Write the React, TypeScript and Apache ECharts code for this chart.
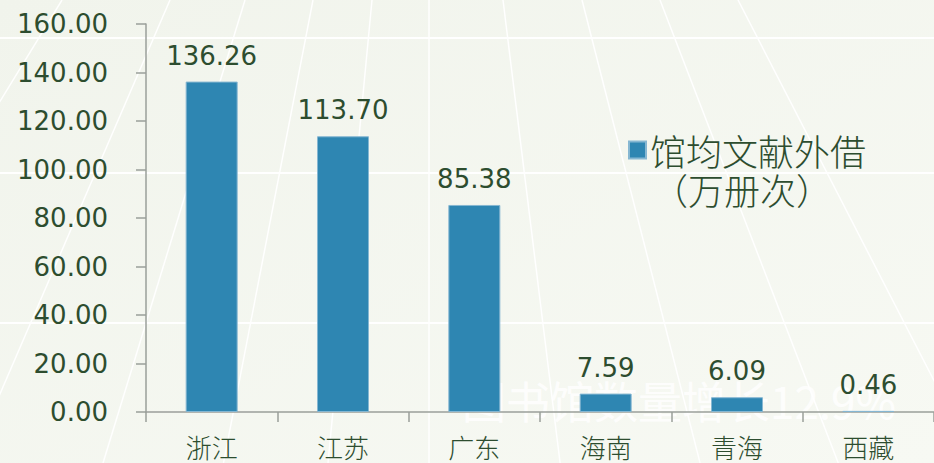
import React, { useEffect, useRef } from "react";
import * as echarts from "echarts";

const categories = ["浙江", "江苏", "广东", "海南", "青海", "西藏"];
const values = [136.26, 113.7, 85.38, 7.59, 6.09, 0.46];
const seriesName = "馆均文献外借";
const unitLine = "（万册次）";
const watermark = "图书馆数量增长12.9%";
const yTicks = { min: 0, max: 160, interval: 20 };

const TEXT = "#2d4d2f";

export default function App() {
  const ref = useRef<HTMLDivElement>(null);
  useEffect(() => {
    if (!ref.current) return;
    const chart = echarts.init(ref.current, undefined, { renderer: "svg" });
    const W = 934, H = 463;
    const vp = { x: 429, y: -600 };
    const rayX0 = [62, 170, 245, 313, 372, 429, 503, 582, 660, 738];
    const rays = rayX0.map((x0) => ({
      type: "line",
      z: -10,
      silent: true,
      shape: {
        x1: x0,
        y1: 0,
        x2: vp.x + ((x0 - vp.x) * (H - vp.y)) / (0 - vp.y),
        y2: H,
      },
      style: { stroke: "rgba(255,255,255,0.95)", lineWidth: 1.5 },
    }));
    const hLines = [38, 173, 323].map((y) => ({
      type: "line",
      z: -10,
      silent: true,
      shape: { x1: 0, y1: y, x2: W, y2: y },
      style: { stroke: "rgba(255,255,255,0.95)", lineWidth: 2 },
    }));
    chart.setOption({
      animation: false,
      backgroundColor: {
        type: "linear",
        x: 0, y: 0, x2: 1, y2: 1,
        colorStops: [
          { offset: 0, color: "#f1f4ec" },
          { offset: 1, color: "#f7f9f3" },
        ],
      },
      graphic: [
        ...rays,
        ...hLines,
        {
          type: "text",
          z: -5,
          silent: true,
          left: 462,
          top: 378,
          style: {
            text: watermark,
            font: '44px "Noto Sans CJK SC", sans-serif',
            fill: "rgba(255,255,255,0.85)",
          },
        },
        {
          type: "text",
          left: 652,
          top: 171,
          style: {
            text: unitLine,
            font: '300 36px "Noto Sans CJK SC", sans-serif',
            fill: TEXT,
          },
        },
      ],
      legend: {
        show: true,
        left: 628,
        top: 129,
        padding: 0,
        itemGap: 0,
        icon: "rect",
        itemWidth: 17,
        itemHeight: 17,
        textStyle: {
          fontSize: 36,
          fontWeight: 300,
          lineHeight: 42,
          color: TEXT,
          fontFamily: '"Noto Sans CJK SC", sans-serif',
          padding: [0, 0, 0, -1],
        },
        data: [seriesName],
      },
      grid: { left: 146, top: 24, width: 792, height: 388, containLabel: false },
      xAxis: {
        type: "category",
        data: categories,
        axisLine: { lineStyle: { color: "#9a9f9a", width: 1.5 } },
        axisTick: { show: true, length: 10, alignWithLabel: false, lineStyle: { color: "#9a9f9a", width: 1.5 } },
        axisLabel: {
          margin: 21,
          fontSize: 26,
          color: TEXT,
          fontFamily: '"Noto Sans CJK SC", sans-serif',
          fontWeight: 300,
        },
      },
      yAxis: {
        type: "value",
        min: yTicks.min,
        max: yTicks.max,
        interval: yTicks.interval,
        splitLine: { show: false },
        axisLine: { show: true, lineStyle: { color: "#9a9f9a", width: 1.5 } },
        axisTick: { show: true, length: 10, lineStyle: { color: "#9a9f9a", width: 1.5 } },
        axisLabel: {
          margin: 38,
          fontSize: 26,
          color: TEXT,
          fontFamily: '"DejaVu Sans", sans-serif',
          formatter: (v: number) => v.toFixed(2),
        },
      },
      series: [
        {
          name: seriesName,
          type: "bar",
          data: values,
          barWidth: 52,
          itemStyle: { color: "#2e86b2", borderColor: "#86b7d2", borderWidth: 1 },
          label: {
            show: true,
            position: "top",
            distance: 13,
            fontSize: 26,
            color: TEXT,
            fontFamily: '"DejaVu Sans", sans-serif',
            formatter: (p: any) => Number(p.value).toFixed(2),
          },
        },
      ],
    });
    return () => chart.dispose();
  }, []);
  return (
    <div
      ref={ref}
      style={{ position: "fixed", left: 0, top: 0, width: 934, height: 463 }}
    />
  );
}
